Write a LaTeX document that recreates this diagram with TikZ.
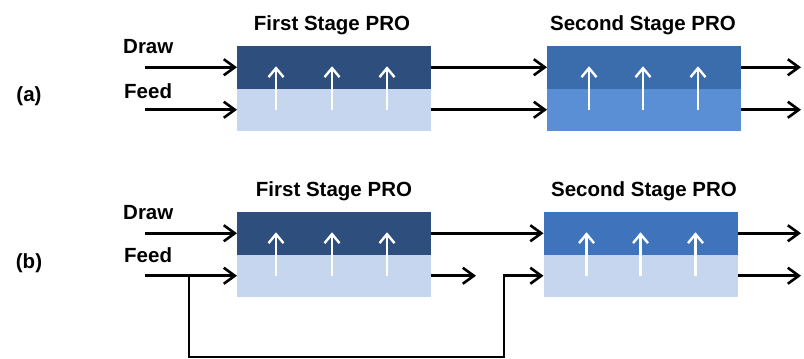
\documentclass[tikz,border=0pt]{standalone}
\usepackage{fontspec}
\setmainfont{Liberation Sans}
\usetikzlibrary{arrows.meta}

\definecolor{navy}{HTML}{2E4F7E}
\definecolor{paleblue}{HTML}{C5D6EE}
\definecolor{midblue}{HTML}{3B6CAC}
\definecolor{skyblue}{HTML}{5B8FD5}
\definecolor{brightblue}{HTML}{3F74BC}

\begin{document}
\begin{tikzpicture}[x=1pt,y=-1pt,
  half/.style={draw=none, inner sep=0pt, outer sep=0pt,
    minimum width=194pt, minimum height=42.5pt},
  lbl/.style={font=\fontsize{20.5}{24}\selectfont\bfseries, inner sep=0pt},
  flow/.style={line width=2.6pt, black,
    -{Straight Barb[length=11pt,width=16pt,line width=2.6pt]}},
  perm/.style={line width=2.6pt, white,
    -{Straight Barb[length=9pt,width=15pt,line width=2.4pt]}}
]
\useasboundingbox (0,0) rectangle (804,359);

% ---------------- panel (a) ----------------
\node[lbl, anchor=base] (tagA) at (29,101) {(a)};
\node[lbl, anchor=base] (titleA1) at (332,30) {First Stage PRO};
\node[lbl, anchor=base] (titleA2) at (643,30) {Second Stage PRO};
\node[lbl, anchor=base west] (drawA) at (123,53) {Draw};
\node[lbl, anchor=base west] (feedA) at (124,98) {Feed};

\node[half, fill=navy]     (a1top) at (334,67.25)  {};
\node[half, fill=paleblue] (a1bot) at (334,109.75) {};
\node[half, fill=midblue]  (a2top) at (644,67.25)  {};
\node[half, fill=skyblue]  (a2bot) at (644,109.75) {};

\coordinate (aDrawIn) at (145,67.25);
\coordinate (aFeedIn) at (145,109.75);
\coordinate (aDrawOut) at (801,67.25);
\coordinate (aFeedOut) at (801,109.75);

\draw[flow] (aDrawIn) -- (a1top.west);
\draw[flow] (aFeedIn) -- (a1bot.west);
\draw[flow] (a1top.east) -- (a2top.west);
\draw[flow] (a1bot.east) -- (a2bot.west);
\draw[flow] (a2top.east) -- (aDrawOut);
\draw[flow] (a2bot.east) -- (aFeedOut);

\foreach \dx in {-58,-2,53} {
  \draw[perm] ([xshift=\dx pt]a1bot.center) -- ([xshift=\dx pt, yshift=1pt]a1top.center);
}
\foreach \dx in {-55,-1,54} {
  \draw[perm] ([xshift=\dx pt]a2bot.center) -- ([xshift=\dx pt, yshift=1pt]a2top.center);
}

% ---------------- panel (b) ----------------
\node[lbl, anchor=base] (tagB) at (29,268) {(b)};
\node[lbl, anchor=base] (titleB1) at (334,196) {First Stage PRO};
\node[lbl, anchor=base] (titleB2) at (644,196) {Second Stage PRO};
\node[lbl, anchor=base west] (drawB) at (123,219) {Draw};
\node[lbl, anchor=base west] (feedB) at (124,262) {Feed};

\node[half, fill=navy]       (b1top) at (334,233.25)   {};
\node[half, fill=paleblue]   (b1bot) at (334,275.75)   {};
\node[half, fill=brightblue] (b2top) at (640.5,233.25) {};
\node[half, fill=paleblue]   (b2bot) at (640.5,275.75) {};

\coordinate (bDrawIn) at (145,233.25);
\coordinate (bFeedIn) at (145,275.75);
\coordinate (bSplit)  at (189,275.75);
\coordinate (bLoopL)  at (189,357);
\coordinate (bLoopR)  at (504,357);
\coordinate (bStub)   at (476,275.75);
\coordinate (bDrawOut) at (801,233.25);
\coordinate (bFeedOut) at (801,275.75);

\draw[flow] (bDrawIn) -- (b1top.west);
\draw[flow] (bFeedIn) -- (b1bot.west);
\draw[flow] (bSplit) -- (bLoopL) -- (bLoopR) |- (b2bot.west);
\draw[flow] (b1top.east) -- (b2top.west);
\draw[flow] (b1bot.east) -- (bStub);
\draw[flow] (b2top.east) -- (bDrawOut);
\draw[flow] (b2bot.east) -- (bFeedOut);

\foreach \dx in {-58,-2,53} {
  \draw[perm] ([xshift=\dx pt]b1bot.center) -- ([xshift=\dx pt, yshift=1pt]b1top.center);
}
\foreach \dx in {-54,0,55} {
  \draw[perm] ([xshift=\dx pt]b2bot.center) -- ([xshift=\dx pt, yshift=1pt]b2top.center);
}
\end{tikzpicture}
\end{document}
